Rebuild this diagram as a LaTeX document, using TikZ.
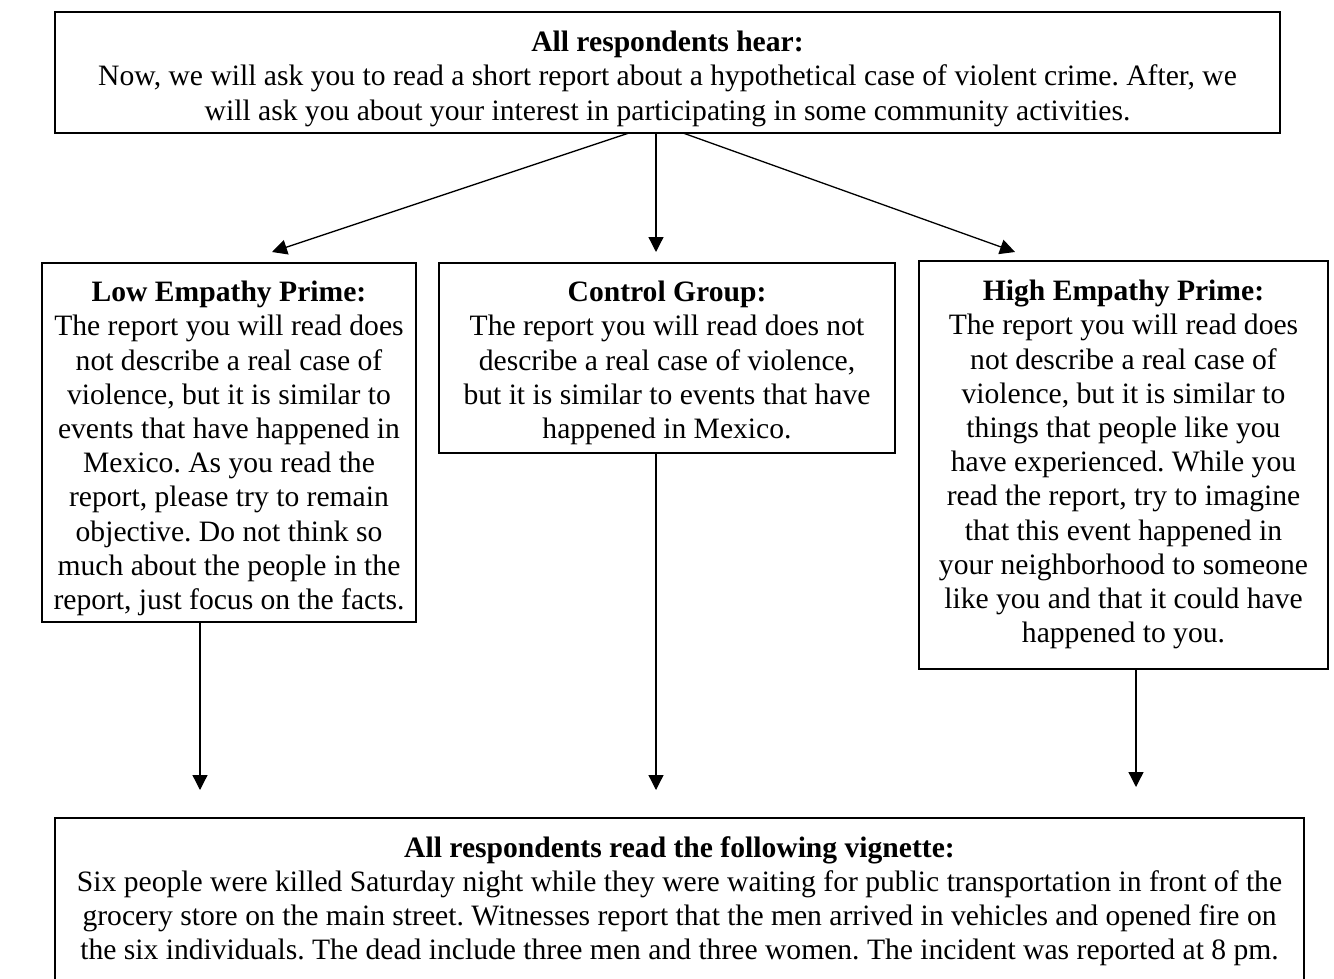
\documentclass[tikz,border=0pt]{standalone}
\usepackage{fontspec}
\setmainfont{Liberation Serif}
\usetikzlibrary{arrows.meta}
\begin{document}
\begin{tikzpicture}[x=1pt,y=-1pt,
  box/.style={draw, line width=2.4pt, inner sep=0pt, outer sep=0pt, anchor=north west},
  txt/.style={align=center, inner sep=0pt, anchor=north, font=\fontsize{29.6}{34.2}\selectfont\frenchspacing},
  arr/.style={line width=1.3pt, -{Triangle[length=15pt,width=15pt]}}]
\useasboundingbox (0,0) rectangle (1334,979);
\clip (0,0) rectangle (1334,979);
\fill[white] (0,0) rectangle (1334,979);
% boxes
\node[box, minimum width=1225pt, minimum height=121pt] (top) at (55,12) {};
\node[box, minimum width=374pt, minimum height=359pt] (low) at (42,263) {};
\node[box, minimum width=456pt, minimum height=190pt] (ctrl) at (439,263) {};
\node[box, minimum width=409pt, minimum height=408pt] (high) at (919,261) {};
\node[box, minimum width=1249pt, minimum height=220pt] (vig) at (55,818) {};
% texts
\node[txt] (toptext) at (667.5,31) {\textbf{All respondents hear:}\\
Now, we will ask you to read a short report about a hypothetical case of violent crime. After, we\\
will ask you about your interest in participating in some community activities.};
\node[txt] (lowtext) at (229,281) {\textbf{Low Empathy Prime:}\\
The report you will read does\\
not describe a real case of\\
violence, but it is similar to\\
events that have happened in\\
Mexico. As you read the\\
report, please try to remain\\
objective. Do not think so\\
much about the people in the\\
report, just focus on the facts.};
\node[txt] (ctrltext) at (667,281) {\textbf{Control Group:}\\
The report you will read does not\\
describe a real case of violence,\\
but it is similar to events that have\\
happened in Mexico.};
\node[txt] (hightext) at (1123.5,280) {\textbf{High Empathy Prime:}\\
The report you will read does\\
not describe a real case of\\
violence, but it is similar to\\
things that people like you\\
have experienced. While you\\
read the report, try to imagine\\
that this event happened in\\
your neighborhood to someone\\
like you and that it could have\\
happened to you.};
\node[txt] (vigtext) at (679.5,836) {\textbf{All respondents read the following vignette:}\\
Six people were killed Saturday night while they were waiting for public transportation in front of the\\
grocery store on the main street. Witnesses report that the men arrived in vehicles and opened fire on\\
the six individuals. The dead include three men and three women. The incident was reported at 8 pm.};
% arrows
\draw[arr] ([xshift=-38.5pt]top.south) -- ([xshift=43pt,yshift=11pt]low.north);
\draw[arr] ([xshift=-11.5pt]top.south) -- ([xshift=-11pt,yshift=11pt]ctrl.north);
\draw[arr] ([xshift=15.5pt]top.south) -- ([xshift=-108.5pt,yshift=9pt]high.north);
\draw[arr] ([xshift=-29pt]low.south) -- ([xshift=-479.5pt,yshift=28pt]vig.north);
\draw[arr] ([xshift=-11pt]ctrl.south) -- ([xshift=-23.5pt,yshift=28pt]vig.north);
\draw[arr] ([xshift=12.5pt]high.south) -- ([xshift=456.5pt,yshift=31pt]vig.north);
\end{tikzpicture}
\end{document}
